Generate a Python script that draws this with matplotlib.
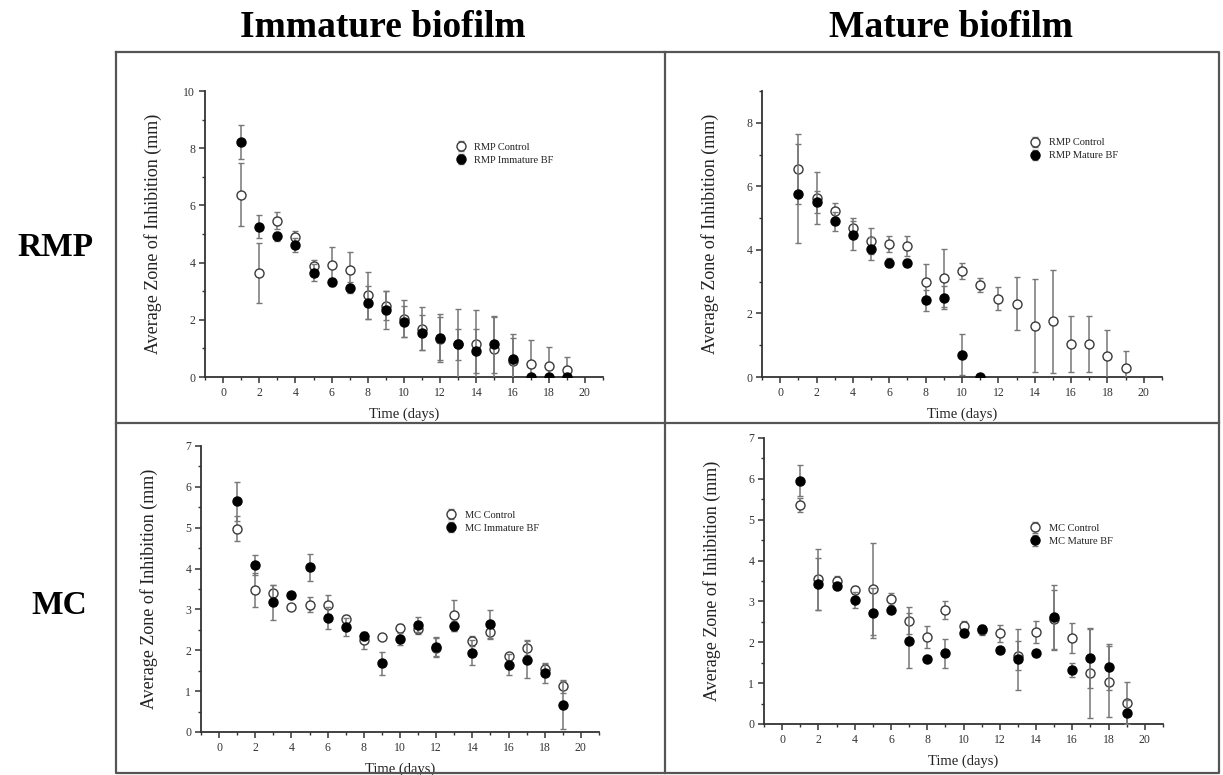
import numpy as np
import matplotlib
matplotlib.use("Agg")
from matplotlib import pyplot as plt
from matplotlib.lines import Line2D
from matplotlib.ticker import MultipleLocator

plt.rcParams["font.family"] = ["Liberation Serif", "DejaVu Serif"]

days = np.arange(1, 20)

# RMP, immature biofilm
rmp_imm_ctrl = [6.38, 3.64, 5.47, 4.89, 3.88, 3.90, 3.75, 2.85, 2.50, 2.04,
                1.69, 1.34, 1.14, 1.14, 0.99, 0.55, 0.47, 0.37, 0.26]
rmp_imm_ctrl_err = [1.10, 1.04, 0.30, 0.23, 0.22, 0.64, 0.62, 0.82, 0.49, 0.64,
                    0.75, 0.76, 1.25, 1.20, 1.10, 0.80, 0.84, 0.68, 0.44]
rmp_imm_bf = [8.21, 5.26, 4.92, 4.62, 3.64, 3.32, 3.12, 2.60, 2.35, 1.94,
              1.55, 1.37, 1.14, 0.91, 1.14, 0.64, 0.0, 0.0, 0.0]
rmp_imm_bf_err = [0.60, 0.40, 0.15, 0.25, 0.30, 0.14, 0.20, 0.58, 0.66, 0.55,
                  0.62, 0.85, 0.55, 0.78, 1.00, 0.87, 0.0, 0.0, 0.0]

# RMP, mature biofilm
rmp_mat_ctrl = [6.54, 5.64, 5.23, 4.70, 4.28, 4.18, 4.12, 2.99, 3.12, 3.34,
                2.89, 2.47, 2.31, 1.62, 1.76, 1.03, 1.03, 0.66, 0.29]
rmp_mat_ctrl_err = [1.10, 0.82, 0.26, 0.29, 0.41, 0.25, 0.31, 0.58, 0.92, 0.25,
                    0.23, 0.36, 0.84, 1.46, 1.62, 0.88, 0.88, 0.81, 0.52]
rmp_mat_bf = [5.77, 5.51, 4.90, 4.46, 4.04, 3.60, 3.60, 2.41, 2.50, 0.70,
              0.0, np.nan, np.nan, np.nan, np.nan, np.nan, np.nan, np.nan, np.nan]
rmp_mat_bf_err = [1.55, 0.35, 0.30, 0.45, 0.37, 0.14, 0.10, 0.34, 0.35, 0.64,
                  0.0, np.nan, np.nan, np.nan, np.nan, np.nan, np.nan, np.nan, np.nan]

# MC, immature biofilm
mc_imm_ctrl = [4.98, 3.47, 3.41, 3.06, 3.12, 3.12, 2.76, 2.24, 2.32, 2.55,
               2.53, 2.06, 2.86, 2.22, 2.45, 1.86, 2.06, 1.53, 1.12]
mc_imm_ctrl_err = [0.30, 0.42, 0.18, 0.05, 0.18, 0.24, 0.10, 0.20, 0.03, 0.10,
                   0.12, 0.23, 0.38, 0.12, 0.17, 0.08, 0.18, 0.14, 0.16]
mc_imm_bf = [5.65, 4.09, 3.18, 3.35, 4.03, 2.79, 2.57, 2.35, 1.68, 2.27,
             2.63, 2.09, 2.59, 1.94, 2.64, 1.65, 1.77, 1.45, 0.67]
mc_imm_bf_err = [0.48, 0.24, 0.43, 0.05, 0.33, 0.28, 0.23, 0.10, 0.29, 0.15,
                 0.18, 0.23, 0.12, 0.31, 0.35, 0.26, 0.46, 0.24, 0.59]

# MC, mature biofilm
mc_mat_ctrl = [5.37, 3.54, 3.50, 3.27, 3.31, 3.06, 2.53, 2.12, 2.78, 2.41,
               2.29, 2.22, 1.67, 2.25, 2.56, 2.10, 1.24, 1.04, 0.51]
mc_mat_ctrl_err = [0.17, 0.74, 0.12, 0.10, 1.12, 0.14, 0.33, 0.27, 0.22, 0.10,
                   0.10, 0.21, 0.35, 0.27, 0.72, 0.36, 1.09, 0.88, 0.51]
mc_mat_bf = [5.95, 3.43, 3.38, 3.04, 2.71, 2.79, 2.04, 1.59, 1.73, 2.22,
             2.33, 1.81, 1.58, 1.73, 2.61, 1.32, 1.61, 1.40, 0.28]
mc_mat_bf_err = [0.38, 0.64, 0.06, 0.20, 0.61, 0.05, 0.68, 0.0, 0.36, 0.10,
                 0.10, 0.05, 0.75, 0.05, 0.80, 0.18, 0.74, 0.57, 0.30]

W, H = 1223, 775
fig = plt.figure(figsize=(W / 100, H / 100), dpi=100)


def px_axes(x0, x1, y_top, y_bot):
    return fig.add_axes([x0 / W, 1 - y_bot / H, (x1 - x0) / W, (y_bot - y_top) / H])


def panel(ax, ctrl, ctrl_err, bf, bf_err, labels, ymax, ymajor, legend_pos):
    ax.errorbar(days, ctrl, yerr=ctrl_err, fmt="o", ms=6.5, mfc="white", mec="#3a3a3a",
                mew=1.0, ecolor="#777777", elinewidth=1.1, capsize=2.5, capthick=1.0,
                label=labels[0], zorder=3)
    ax.errorbar(days, bf, yerr=bf_err, fmt="o", ms=6.5, mfc="black", mec="black",
                ecolor="#777777", elinewidth=1.1, capsize=2.5, capthick=1.0,
                label=labels[1], zorder=4)
    ax.set_xlim(-1, 21)
    ax.set_ylim(0, ymax)
    ax.xaxis.set_major_locator(MultipleLocator(2))
    ax.xaxis.set_minor_locator(MultipleLocator(1))
    ax.yaxis.set_major_locator(MultipleLocator(ymajor))
    ax.yaxis.set_minor_locator(MultipleLocator(ymajor / 2))
    for side in ("top", "right"):
        ax.spines[side].set_visible(False)
    for side in ("left", "bottom"):
        ax.spines[side].set_color("#333333")
        ax.spines[side].set_linewidth(1.3)
    ax.tick_params(which="major", direction="out", length=4, width=1.1,
                   colors="#333333", labelsize=8.5, labelcolor="#333333", pad=3)
    ax.tick_params(which="minor", direction="out", length=2.5, width=1.0, colors="#333333")
    ax.set_ylabel("Average Zone of Inhibition (mm)", fontsize=13, color="#222222")
    ax.set_xlabel("Time (days)", fontsize=10.5, color="#222222")
    ax.yaxis.set_label_coords(-0.108, 0.5)
    ax.xaxis.set_label_coords(0.5, -0.105)
    leg = ax.legend(loc="upper left", bbox_to_anchor=legend_pos, frameon=False,
                    fontsize=7.5, handlelength=1.0, handletextpad=0.8,
                    labelspacing=0.35, borderaxespad=0, borderpad=0)
    for t in leg.get_texts():
        t.set_color("#222222")


ax_tl = px_axes(205, 603, 91, 377)
ax_tr = px_axes(762, 1162, 91, 377)
ax_bl = px_axes(201, 599, 446, 732)
ax_br = px_axes(764, 1163, 438, 724)

panel(ax_tl, rmp_imm_ctrl, rmp_imm_ctrl_err, rmp_imm_bf, rmp_imm_bf_err,
      ["RMP Control", "RMP Immature BF"], 10, 2, (0.63, 0.82))
panel(ax_tr, rmp_mat_ctrl, rmp_mat_ctrl_err, rmp_mat_bf, rmp_mat_bf_err,
      ["RMP Control", "RMP Mature BF"], 9, 2, (0.67, 0.835))
panel(ax_bl, mc_imm_ctrl, mc_imm_ctrl_err, mc_imm_bf, mc_imm_bf_err,
      ["MC Control", "MC Immature BF"], 7, 1, (0.615, 0.775))
panel(ax_br, mc_mat_ctrl, mc_mat_ctrl_err, mc_mat_bf, mc_mat_bf_err,
      ["MC Control", "MC Mature BF"], 7, 1, (0.667, 0.70))

# frame around the four panels
frame_kw = dict(color="#555555", lw=1.6, transform=fig.transFigure)
left, right, top, bottom = 116 / W, 1219 / W, 1 - 52 / H, 1 - 773 / H
xmid, ymid = 665 / W, 1 - 423 / H
fig.add_artist(Line2D([left, right, right, left, left], [top, top, bottom, bottom, top], **frame_kw))
fig.add_artist(Line2D([xmid, xmid], [top, bottom], **frame_kw))
fig.add_artist(Line2D([left, right], [ymid, ymid], **frame_kw))

fig.text(383 / W, 1 - 37 / H, "Immature biofilm", ha="center", va="baseline",
         fontsize=27, fontweight="bold")
fig.text(951 / W, 1 - 37 / H, "Mature biofilm", ha="center", va="baseline",
         fontsize=27, fontweight="bold")
fig.text(55 / W, 1 - 248 / H, "RMP", ha="center", va="center", fontsize=24, fontweight="bold")
fig.text(59 / W, 1 - 605 / H, "MC", ha="center", va="center", fontsize=24, fontweight="bold")

fig.savefig("out.png", dpi=100)
